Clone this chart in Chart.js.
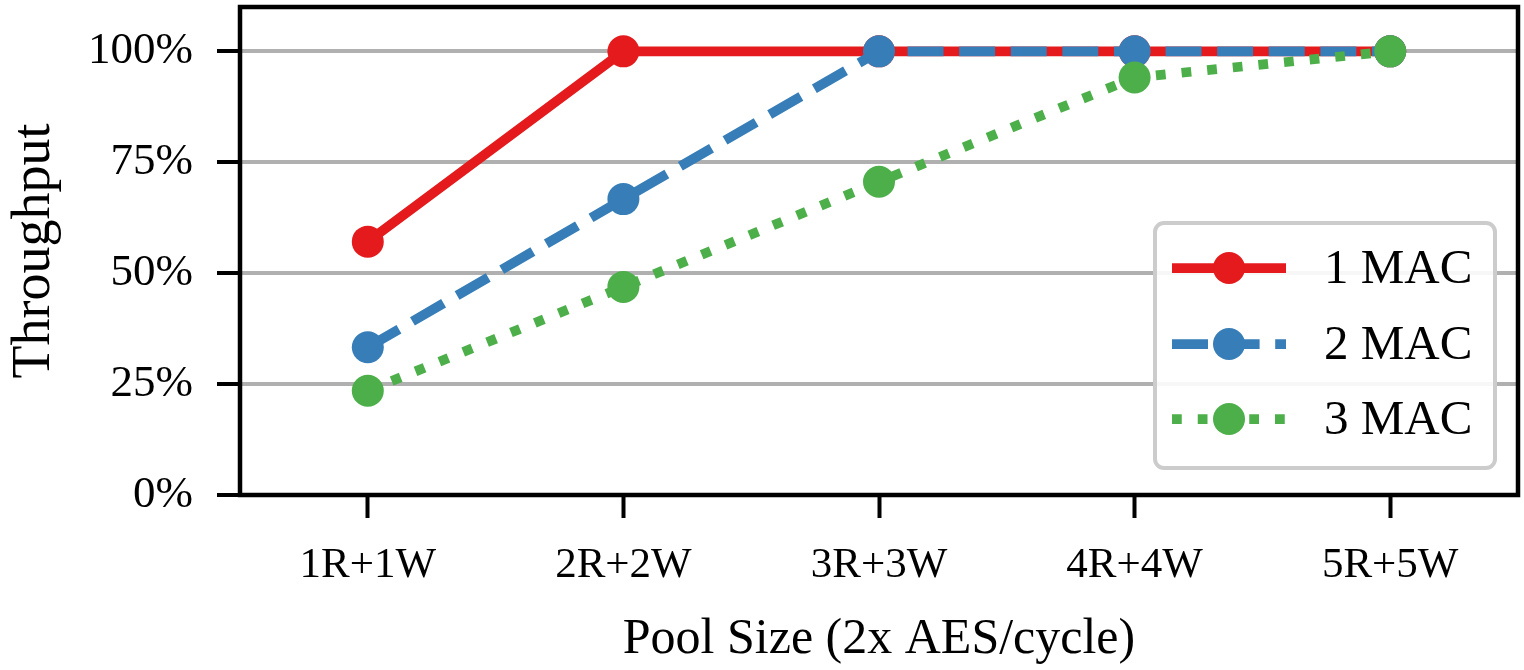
<!DOCTYPE html>
<html>
<head>
<meta charset="utf-8">
<script src="https://cdn.jsdelivr.net/npm/chart.js@4.4.1/dist/chart.umd.min.js"></script>
<style>
  html, body { margin: 0; padding: 0; background: #fff; }
  #wrap { width: 1524px; height: 670px; }
</style>
</head>
<body>
<div id="wrap"><canvas id="c" width="1524" height="670"></canvas></div>
<script>
const categories = ['1R+1W', '2R+2W', '3R+3W', '4R+4W', '5R+5W'];
const mac1 = [57.1, 100, 100, 100, 100];
const mac2 = [33.3, 66.7, 100, 100, 100];
const mac3 = [23.5, 46.9, 70.6, 94.1, 100];
const seriesNames = ['1 MAC', '2 MAC', '3 MAC'];
const yTicks = [0, 25, 50, 75, 100];

const RED = '#e41a1c', BLUE = '#377eb8', GREEN = '#4daf4a';
const LW = 9.75, PR = 16;
const DASHES = [[], [36, 15.6], [9.75, 16]];
const COLORS = [RED, BLUE, GREEN];
const FONT = "'Liberation Serif', 'Times New Roman', serif";

const framePlugin = {
  id: 'frame',
  afterDraw(chart) {
    const {ctx, chartArea: a} = chart;
    ctx.save();
    ctx.strokeStyle = '#000';
    ctx.lineWidth = 4.5;
    ctx.strokeRect(a.left, a.top, a.right - a.left, a.bottom - a.top);
    // legend
    const w = 340, h = 245;
    const x = a.right - 23 - w, y = a.bottom - 27 - h;
    const r = 9;
    ctx.beginPath();
    ctx.moveTo(x + r, y);
    ctx.arcTo(x + w, y, x + w, y + h, r);
    ctx.arcTo(x + w, y + h, x, y + h, r);
    ctx.arcTo(x, y + h, x, y, r);
    ctx.arcTo(x, y, x + w, y, r);
    ctx.closePath();
    ctx.fillStyle = 'rgba(255,255,255,0.9)';
    ctx.fill();
    ctx.lineWidth = 4;
    ctx.strokeStyle = '#cccccc';
    ctx.stroke();
    const rows = [45, 121, 196];
    for (let i = 0; i < 3; i++) {
      const cy = y + rows[i];
      ctx.beginPath();
      ctx.setLineDash(DASHES[i]);
      ctx.lineCap = 'butt';
      ctx.lineWidth = LW;
      ctx.strokeStyle = COLORS[i];
      ctx.moveTo(x + 17, cy);
      ctx.lineTo(x + 131, cy);
      ctx.stroke();
      ctx.setLineDash([]);
      ctx.beginPath();
      ctx.arc(x + 74, cy, PR, 0, Math.PI * 2);
      ctx.fillStyle = COLORS[i];
      ctx.fill();
      ctx.fillStyle = '#000';
      ctx.font = '49px ' + FONT;
      ctx.textBaseline = 'middle';
      ctx.textAlign = 'left';
      ctx.fillText(seriesNames[i], x + 169, cy + 2);
    }
    ctx.restore();
  }
};

function ds(label, data, color, dash, order) {
  return {
    label, data, order,
    borderColor: color, backgroundColor: color,
    borderWidth: LW, borderDash: dash, borderCapStyle: 'butt',
    pointRadius: PR, pointHoverRadius: PR, pointBorderWidth: 0,
    pointBackgroundColor: color, tension: 0, fill: false, clip: false
  };
}

new Chart(document.getElementById('c'), {
  type: 'line',
  data: {
    labels: categories,
    datasets: [
      ds(seriesNames[0], mac1, RED, DASHES[0], 3),
      ds(seriesNames[1], mac2, BLUE, DASHES[1], 2),
      ds(seriesNames[2], mac3, GREEN, DASHES[2], 1)
    ]
  },
  options: {
    responsive: false,
    animation: false,
    devicePixelRatio: 1,
    layout: { autoPadding: false, padding: { left: 0, right: 6, top: 7, bottom: 0 } },
    plugins: { legend: { display: false }, tooltip: { enabled: false } },
    scales: {
      x: {
        type: 'category',
        offset: true,
        grid: { display: true, drawOnChartArea: false, drawTicks: true, tickLength: 23, tickColor: '#000', tickWidth: 4, offset: false },
        border: { display: false },
        ticks: { color: '#000', font: { family: FONT, size: 43 }, padding: 22, maxRotation: 0 },
        title: { display: true, text: 'Pool Size (2x AES/cycle)', color: '#000', font: { family: FONT, size: 50, lineHeight: 1 }, padding: { top: 0, bottom: 5 } },
        afterFit(s) { s.height = 175; s.paddingLeft = 0; s.paddingRight = 0; s.paddingTop = 0; s.paddingBottom = 0; }
      },
      y: {
        min: 0, max: 110,
        afterBuildTicks(s) { s.ticks = yTicks.map(v => ({ value: v })); },
        grid: { color: '#b0b0b0', lineWidth: 4, drawTicks: true, tickLength: 23, tickColor: '#000', tickWidth: 4 },
        border: { display: false },
        ticks: { color: '#000', font: { family: FONT, size: 45 }, padding: 24, callback: v => v + '%' },
        title: { display: true, text: 'Throughput', color: '#000', font: { family: FONT, size: 54, lineHeight: 1 }, padding: { top: 8, bottom: 0 } },
        afterFit(s) { s.width = 240; s.paddingLeft = 0; s.paddingRight = 0; s.paddingTop = 0; s.paddingBottom = 0; }
      }
    }
  },
  plugins: [framePlugin]
});
</script>
</body>
</html>
